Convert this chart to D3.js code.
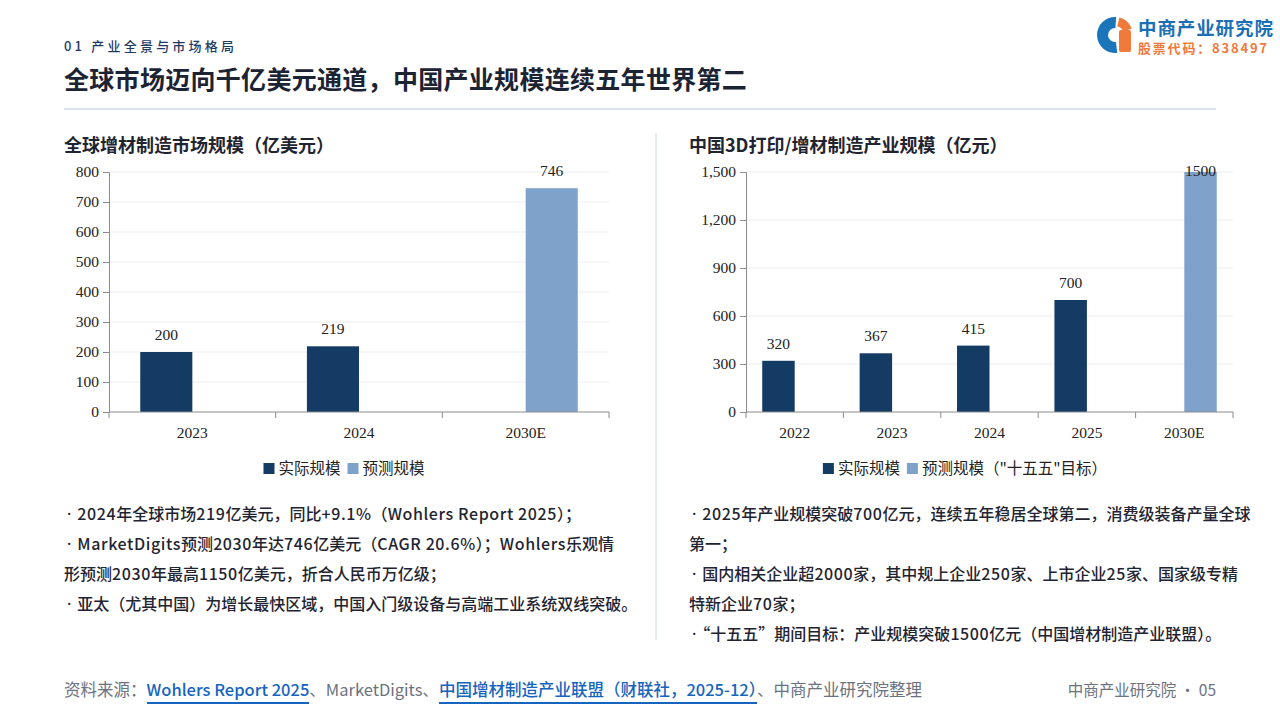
<!DOCTYPE html>
<html><head><meta charset="utf-8">
<script src="https://cdn.jsdelivr.net/npm/d3@7/dist/d3.min.js"></script>
<style>
html,body{margin:0;padding:0;background:#fff;}
#wrap{position:relative;width:1280px;height:720px;overflow:hidden;font-family:"Noto Sans CJK SC","Noto Sans",sans-serif;}
svg{position:absolute;left:0;top:0;}
#footer{position:absolute;left:64px;top:677px;font-size:16.5px;color:#6b7280;white-space:nowrap;line-height:24px;}
#footer .lk{color:#1565c0;font-weight:500;border-bottom:2px solid #1565c0;padding-bottom:1px;}
#pageno{position:absolute;right:64px;top:677px;font-size:15.5px;color:#6b7280;line-height:24px;white-space:nowrap;}
</style></head>
<body><div id="wrap"><svg id="chart" width="1280" height="720"></svg>
<div id="footer"></div><div id="pageno"></div></div>
<script>
// ---------- data ----------
const sectionLabel = "01 产业全景与市场格局";
const mainTitle = "全球市场迈向千亿美元通道，中国产业规模连续五年世界第二";
const leftTitle = "全球增材制造市场规模（亿美元）";
const rightTitle = "中国3D打印/增材制造产业规模（亿元）";

const globalCats = ["2023", "2024", "2030E"];
const globalActual = [200, 219, null];
const globalForecast = [null, null, 746];
const globalTicks = [0, 100, 200, 300, 400, 500, 600, 700, 800];

const chinaCats = ["2022", "2023", "2024", "2025", "2030E"];
const chinaActual = [320, 367, 415, 700, null];
const chinaForecast = [null, null, null, null, 1500];
const chinaTicks = [0, 300, 600, 900, 1200, 1500];

const leftLegend = ["实际规模", "预测规模"];
const rightLegend = ["实际规模", "预测规模（\"十五五\"目标）"];

const leftBullets = [
  "· 2024年全球市场219亿美元，同比+9.1%（Wohlers Report 2025）；",
  "· MarketDigits预测2030年达746亿美元（CAGR 20.6%）；Wohlers乐观情",
  "形预测2030年最高1150亿美元，折合人民币万亿级；",
  "· 亚太（尤其中国）为增长最快区域，中国入门级设备与高端工业系统双线突破。"
];
const rightBullets = [
  "· 2025年产业规模突破700亿元，连续五年稳居全球第二，消费级装备产量全球",
  "第一；",
  "· 国内相关企业超2000家，其中规上企业250家、上市企业25家、国家级专精",
  "特新企业70家；",
  "· “十五五”期间目标：产业规模突破1500亿元（中国增材制造产业联盟）。"
];
const footerParts = [
  {t:"资料来源：", link:false},
  {t:"Wohlers Report 2025", link:true},
  {t:"、MarketDigits、", link:false},
  {t:"中国增材制造产业联盟（财联社，2025-12）", link:true},
  {t:"、中商产业研究院整理", link:false}
];
const pageLabel = "中商产业研究院 · 05";
const logoName = "中商产业研究院";
const logoCode = "股票代码：838497";

// ---------- styles ----------
const C_ACT = "#133b64", C_FC = "#7fa2cb";
const CJK = "'Noto Sans CJK SC','Noto Sans',sans-serif";
const SERIF = "'Liberation Serif','Times New Roman',serif";

const svg = d3.select("#chart");

// header
svg.append("text").attr("x", 64).attr("y", 51).text(sectionLabel)
  .attr("font-family", CJK).attr("font-size", 13).attr("font-weight", 500)
  .attr("letter-spacing", "3.2px").attr("fill", "#1f3b63");
svg.append("text").attr("x", 64).attr("y", 89).text(mainTitle)
  .attr("font-family", CJK).attr("font-size", 25).attr("font-weight", 700)
  .attr("letter-spacing", "0.3px").attr("fill", "#1c2333");
svg.append("line").attr("x1", 64).attr("x2", 1216).attr("y1", 109).attr("y2", 109)
  .attr("stroke", "#dde2ea").attr("stroke-width", 2);

// logo
const lg = svg.append("g").attr("transform", "translate(1115,35)");
lg.append("path").attr("d", d3.arc()({innerRadius: 7, outerRadius: 18, startAngle: Math.PI * 0.96, endAngle: Math.PI * 2.02}))
  .attr("fill", "#1b75bb");
lg.append("path").attr("d", d3.arc()({innerRadius: 9, outerRadius: 18, startAngle: 0.25, endAngle: 1.2}))
  .attr("fill", "#f07a3b");
lg.append("rect").attr("x", 4).attr("y", -5).attr("width", 12).attr("height", 22).attr("rx", 2)
  .attr("fill", "#f07a3b");
svg.append("text").attr("x", 1138).attr("y", 35).text(logoName)
  .attr("font-family", CJK).attr("font-size", 18.5).attr("font-weight", 700)
  .attr("letter-spacing", "0.9px").attr("fill", "#1b6fb5");
svg.append("text").attr("x", 1138).attr("y", 53).text(logoCode)
  .attr("font-family", CJK).attr("font-size", 13).attr("font-weight", 700)
  .attr("letter-spacing", "1.8px").attr("fill", "#f07a3b");

// divider
svg.append("line").attr("x1", 656).attr("x2", 656).attr("y1", 133).attr("y2", 640)
  .attr("stroke", "#dfe4ee").attr("stroke-width", 1.5);

// chart titles
[[64, leftTitle], [689, rightTitle]].forEach(([x, t]) => {
  svg.append("text").attr("x", x).attr("y", 152).text(t)
    .attr("font-family", CJK).attr("font-size", 18).attr("font-weight", 700).attr("fill", "#1f2430");
});

function barChart(opt) {
  const g = svg.append("g");
  const x = d3.scaleBand().domain(opt.cats).range([opt.x0, opt.x1]).paddingInner(0).paddingOuter(0);
  const sub = d3.scaleBand().domain(["a", "f"]).range([0, x.bandwidth()]).paddingInner(0).paddingOuter(opt.subPad);
  const y = d3.scaleLinear().domain([0, opt.ticks[opt.ticks.length - 1]]).range([opt.y0, opt.y1]);

  // grid
  g.append("g").selectAll("line").data(opt.ticks.slice(1)).join("line")
    .attr("x1", opt.x0).attr("x2", opt.x1).attr("y1", d => y(d)).attr("y2", d => y(d))
    .attr("stroke", "#ecedf1").attr("stroke-width", 1);

  // y axis
  const ya = g.append("g").attr("transform", `translate(${opt.x0},0)`)
    .call(d3.axisLeft(y).tickValues(opt.ticks).tickSize(6).tickPadding(4).tickFormat(d3.format(",")));
  ya.select(".domain").attr("stroke", "#8c8c8c");
  ya.selectAll(".tick line").attr("stroke", "#8c8c8c");
  ya.selectAll("text").attr("font-family", SERIF).attr("font-size", 15.5).attr("fill", "#222");

  // bars
  const rows = opt.cats.map((c, i) => ({c, a: opt.actual[i], f: opt.forecast[i]}));
  const items = [];
  rows.forEach(r => {
    if (r.a != null) items.push({c: r.c, k: "a", v: r.a});
    if (r.f != null) items.push({c: r.c, k: "f", v: r.f});
  });
  g.append("g").selectAll("rect").data(items).join("rect")
    .attr("x", d => x(d.c) + sub(d.k)).attr("width", sub.bandwidth())
    .attr("y", d => y(d.v)).attr("height", d => y(0) - y(d.v))
    .attr("fill", d => d.k === "a" ? C_ACT : C_FC);
  g.append("g").selectAll("text").data(items).join("text")
    .attr("x", d => x(d.c) + sub(d.k) + sub.bandwidth() / 2)
    .attr("y", d => Math.max(y(d.v) - 12, opt.y1 + 4))
    .attr("text-anchor", "middle").text(d => d.v)
    .attr("font-family", SERIF).attr("font-size", 15.5).attr("fill", "#222");

  // x axis
  const xa = g.append("g").attr("transform", `translate(0,${opt.y0})`);
  xa.append("line").attr("x1", opt.x0).attr("x2", opt.x1).attr("stroke", "#8c8c8c");
  const edges = opt.cats.map(c => x(c)).concat([x(opt.cats[opt.cats.length - 1]) + x.bandwidth()]);
  xa.selectAll("line.tk").data(edges).join("line").attr("class", "tk")
    .attr("x1", d => d).attr("x2", d => d).attr("y1", 0).attr("y2", 6).attr("stroke", "#8c8c8c");
  xa.selectAll("text").data(opt.cats).join("text")
    .attr("x", d => x(d) + x.bandwidth() / 2).attr("y", 26).attr("text-anchor", "middle").text(d => d)
    .attr("font-family", SERIF).attr("font-size", 15.5).attr("fill", "#222");

  // legend
  const lgG = g.append("g");
  let cx = 0;
  const colors = [C_ACT, C_FC];
  opt.legend.forEach((t, i) => {
    lgG.append("rect").attr("x", cx).attr("y", -11).attr("width", 11).attr("height", 11).attr("fill", colors[i]);
    const tx = lgG.append("text").attr("x", cx + 15).attr("y", 0).text(t)
      .attr("font-family", CJK).attr("font-size", 15.5).attr("fill", "#222");
    cx += 15 + tx.node().getComputedTextLength() + 7;
  });
  const w = cx - 7;
  lgG.attr("transform", `translate(${opt.legendCx - w / 2},${opt.legendY})`);
}

barChart({cats: globalCats, actual: globalActual, forecast: globalForecast, ticks: globalTicks,
  x0: 109, x1: 609, y0: 412, y1: 172, subPad: 0.6, legend: leftLegend, legendCx: 344, legendY: 474});
barChart({cats: chinaCats, actual: chinaActual, forecast: chinaForecast, ticks: chinaTicks,
  x0: 746, x1: 1233, y0: 412, y1: 172, subPad: 0.5, legend: rightLegend, legendCx: 965, legendY: 474});

// bullets: narrow dot, Latin runs slightly spaced
function bullets(x, lines) {
  lines.forEach((t, i) => {
    const tx = svg.append("text").attr("x", x).attr("y", 520 + i * 30)
      .attr("font-family", CJK).attr("font-size", 16).attr("font-weight", 500).attr("fill", "#1f2430");
    let body = t;
    const isBullet = t.startsWith("· ");
    if (isBullet) {
      tx.append("tspan").attr("dx", 3).attr("font-family", "'Noto Sans','DejaVu Sans',sans-serif").text("·");
      body = t.slice(2);
    }
    const runs = body.match(/[\u0020-\u024F]+|[^\u0020-\u024F]+/g) || [];
    runs.forEach((r, j) => {
      const sp = tx.append("tspan").text(r);
      if (/^[\u0020-\u024F]+$/.test(r)) sp.attr("letter-spacing", "0.6px");
      if (j === 0 && isBullet) sp.attr("dx", 6);
    });
  });
}
bullets(64, leftBullets);
bullets(689, rightBullets);

// footer
const ft = d3.select("#footer");
footerParts.forEach(p => ft.append("span").attr("class", p.link ? "lk" : null).text(p.t));
d3.select("#pageno").text(pageLabel);
</script></body></html>
